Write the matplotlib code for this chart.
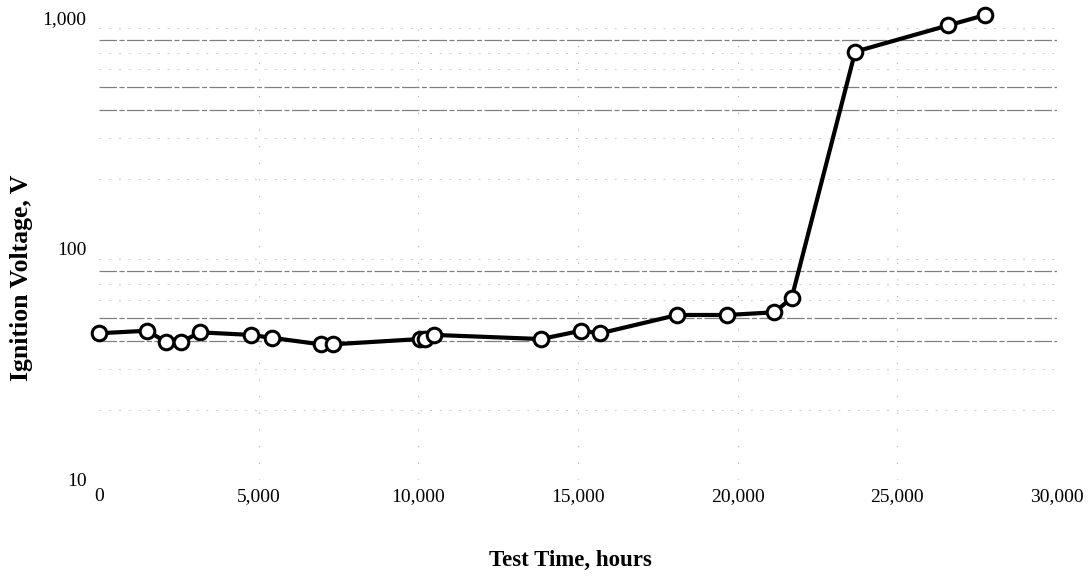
import matplotlib
matplotlib.use("Agg")
import matplotlib.pyplot as plt
from matplotlib.ticker import FixedLocator, FuncFormatter

# Data
test_hours = [0, 1510, 2100, 2570, 3160, 4750, 5410, 6950, 7320, 10050, 10210,
              10490, 13840, 15100, 15700, 18110, 19680, 21150, 21690, 23680,
              26600, 27750]
ignition_voltage = [43.0, 44.1, 39.4, 39.4, 43.4, 42.3, 41.1, 38.5, 38.5, 40.6,
                    40.6, 42.3, 40.6, 44.1, 43.0, 51.6, 51.6, 53.0, 61.1, 712,
                    926, 1026]

x_ticks = [0, 5000, 10000, 15000, 20000, 25000, 30000]
y_ticks = [10, 100, 1000]
strong_grid = [40, 50, 80, 400, 500, 800]
faint_grid = [20, 30, 60, 70, 90, 200, 300, 600, 700, 900]

serif = ["Liberation Serif", "DejaVu Serif"]

fig = plt.figure(figsize=(10.91, 5.80), dpi=100)
ax = fig.add_axes([99 / 1091, 100.4 / 580, 958 / 1091, 462 / 580])

ax.set_yscale("log")
ax.set_xlim(0, 30000)
ax.set_ylim(10, 1000)

for v in strong_grid:
    ax.axhline(v, color="0.5", lw=0.9, ls=(0, (14, 2, 4, 2)), zorder=1)
for v in faint_grid:
    ax.axhline(v, color="0.8", lw=0.7, ls=(0, (2, 8)), zorder=1)
for v in x_ticks[1:-1]:
    ax.axvline(v, color="0.7", lw=0.8, ls=(0, (1, 14)), zorder=1)

ax.plot(test_hours, ignition_voltage, color="black", lw=3.0, marker="o",
        markersize=10.5, markerfacecolor="white", markeredgecolor="black",
        markeredgewidth=2.2, zorder=3, clip_on=False)

ax.xaxis.set_major_locator(FixedLocator(x_ticks))
ax.yaxis.set_major_locator(FixedLocator(y_ticks))
ax.yaxis.set_minor_locator(FixedLocator([]))
fmt = FuncFormatter(lambda v, p: f"{int(round(v)):,}")
ax.xaxis.set_major_formatter(fmt)
ax.yaxis.set_major_formatter(fmt)
ax.tick_params(axis="both", which="both", length=0, labelsize=14)
ax.tick_params(axis="y", pad=9)
ax.tick_params(axis="x", pad=6)
for lab in ax.get_xticklabels() + ax.get_yticklabels():
    lab.set_fontfamily(serif)

for s in ax.spines.values():
    s.set_visible(False)

fig.text(570 / 1091, 1 - 560 / 580, "Test Time, hours", ha="center", va="center",
         fontsize=16.5, fontweight="bold", family=serif)
fig.text(22 / 1091, 1 - 278 / 580, "Ignition Voltage, V", ha="center", va="center",
         rotation=90, fontsize=18.5, fontweight="bold", family=serif)

fig.savefig("out.png", dpi=100)
